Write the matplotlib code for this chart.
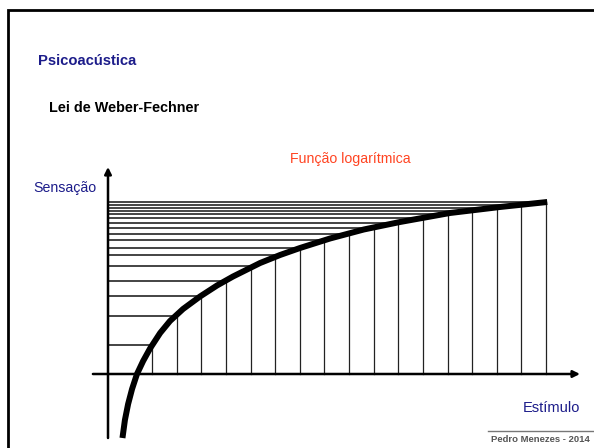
import matplotlib
matplotlib.use("Agg")
import matplotlib.pyplot as plt
from matplotlib.patches import Rectangle

plt.rcParams['font.family'] = ['Liberation Sans', 'DejaVu Sans']

# stimulus steps (vertical lines) and sensation read at each step
stimulus = [1, 2, 3, 4, 5, 6, 7, 8, 9, 10, 11, 12, 13, 14, 15, 16, 17]
sensation = [2.95, 5.8, 7.8, 9.3, 10.8, 11.9, 12.6, 13.35, 14.0, 14.55,
             15.1, 15.55, 16.0, 16.3, 16.6, 16.9, 17.2]

# logarithmic curve
curve_x = [-0.2, -0.1, 0.03, 0.19, 0.39, 0.64, 0.92, 1.33, 1.73, 2.26, 2.95,
           3.64, 4.29, 5.39, 6.2, 7.01, 8.23, 9.6, 11.07, 13.10, 15.13, 17.05]
curve_y = [-6.4, -4.6, -3.0, -1.5, 0.0, 1.3, 2.55, 4.1, 5.3, 6.5, 7.75,
           8.85, 9.75, 11.1, 11.9, 12.6, 13.55, 14.45, 15.2, 16.1, 16.7, 17.2]

y_axis_at = -0.787
x_axis_range = (-1.4, 18.38)
y_axis_range = (-6.4, 20.7)

navy = '#1c1c8a'

fig = plt.figure(figsize=(5.94, 4.48), dpi=100)
ax = fig.add_axes([0, 0, 1, 1])
ax.set_xlim(-5.173, 18.949)
ax.set_ylim(-7.4, 37.4)
ax.axis('off')

# slide border (runs off the right and bottom edges)
fig.patches.append(Rectangle((8 / 594, -0.05), 1.2, 1 - 10 / 448 + 0.05,
                             transform=fig.transFigure, fill=False,
                             edgecolor='black', lw=2.0))

# grid of steps
for s, v in zip(stimulus, sensation):
    ax.plot([s, s], [0, v], color='#222222', lw=0.9, zorder=2)
    ax.plot([y_axis_at, s], [v, v], color='#111111', lw=1.1, zorder=2)

# axes with arrows
ax.annotate('', xy=(x_axis_range[1], 0), xytext=(x_axis_range[0], 0),
            arrowprops=dict(arrowstyle='-|>', color='black', lw=1.8,
                            mutation_scale=10, shrinkA=0, shrinkB=0), zorder=3)
ax.annotate('', xy=(y_axis_at, y_axis_range[1]), xytext=(y_axis_at, y_axis_range[0]),
            arrowprops=dict(arrowstyle='-|>', color='black', lw=1.8,
                            mutation_scale=10, shrinkA=0, shrinkB=0), zorder=3)

# the curve
ax.plot(curve_x, curve_y, color='black', lw=4.3, solid_capstyle='butt',
        solid_joinstyle='round', zorder=4)

# texts
fig.text(38 / 594, 1 - 61 / 448, 'Psicoacústica', color=navy, fontsize=10.6,
         fontweight='bold', ha='left', va='center')
fig.text(49 / 594, 1 - 108 / 448, 'Lei de Weber-Fechner', color='black', fontsize=10.4,
         fontweight='bold', ha='left', va='center')
fig.text(290 / 594, 1 - 159 / 448, 'Função logarítmica', color='#ff4422', fontsize=10.2,
         ha='left', va='center')
fig.text(33 / 594, 1 - 188 / 448, 'Sensação', color=navy, fontsize=10.2,
         ha='left', va='center')
fig.text(580 / 594, 1 - 408 / 448, 'Estímulo', color=navy, fontsize=10.5,
         ha='right', va='center')

# footer
fig.add_artist(plt.Line2D([488 / 594, 593 / 594], [1 - 431 / 448, 1 - 431 / 448],
                          transform=fig.transFigure, color='#777777', lw=1.0))
fig.text(590 / 594, 1 - 439 / 448, 'Pedro Menezes - 2014', color='#555555', fontsize=6.8,
         fontweight='bold', ha='right', va='center')

fig.savefig('out.png', dpi=100)
